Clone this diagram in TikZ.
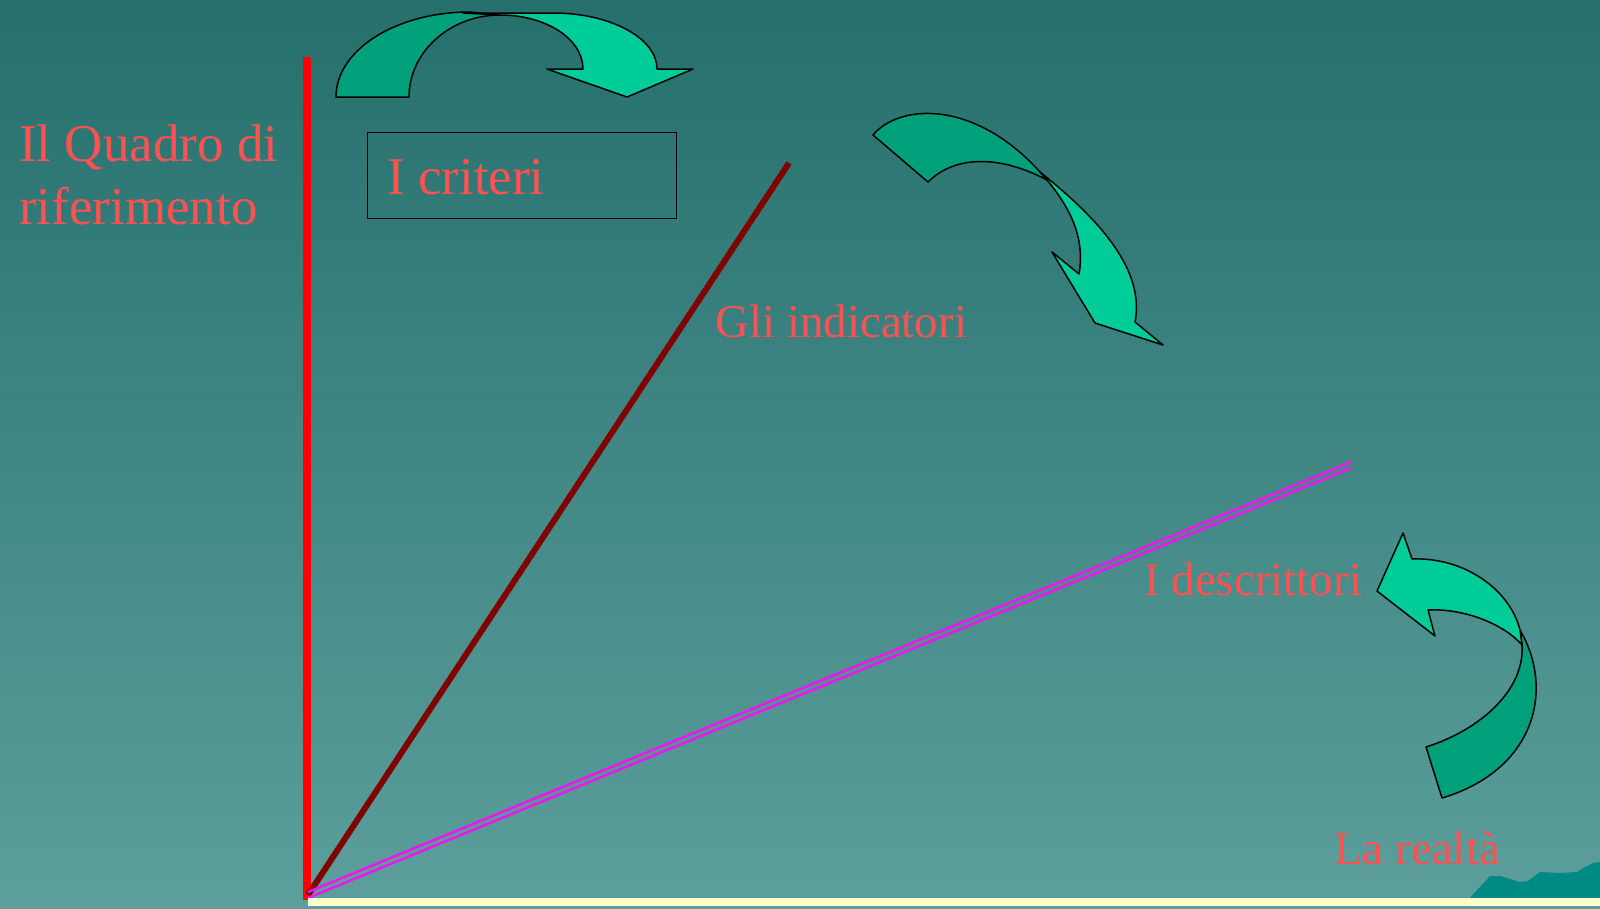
\documentclass[tikz,border=0pt]{standalone}
\usepackage{fontspec}
\setmainfont{Liberation Serif}

\definecolor{sfondoalto}{RGB}{37,111,109}
\definecolor{sfondobasso}{RGB}{92,159,156}
\definecolor{rossotesto}{RGB}{252,82,82}
\definecolor{verdescuro}{RGB}{0,160,122}
\definecolor{verdechiaro}{RGB}{0,204,153}
\definecolor{bordeaux}{RGB}{128,0,0}
\definecolor{fucsia}{RGB}{240,20,240}
\definecolor{crema}{RGB}{255,255,204}
\definecolor{petrolio}{RGB}{0,138,134}

\tikzset{
	testo/.style={text=rossotesto, inner sep=0pt, anchor=base west},
	freccia retro/.style={fill=verdescuro, draw=black, line width=1.5, line join=round},
	freccia fronte/.style={fill=verdechiaro, draw=black, line width=1.5, line join=round}
}

\begin{document}
\begin{tikzpicture}[x=1pt, y=-1pt]

\useasboundingbox (0,0) rectangle (1600,908);
\fill[top color=sfondoalto, bottom color=sfondobasso] (0,0) rectangle (1600,908);

\coordinate (O) at (308,895);
\coordinate (A) at (307,57);
\coordinate (B) at (789,163);
\coordinate (C) at (1351,465);

% Assi
	\draw[red, line width=8] (A) -- (307,900);
	\draw[bordeaux, line width=6] (O) -- (B);
	\draw[fucsia, line width=2.5] ([yshift=3pt]O) -- ([yshift=3pt]C);
	\draw[fucsia, line width=2.5] ([yshift=-3pt]O) -- ([yshift=-3pt]C);

% Testi
\node[testo, font=\fontsize{53}{63}\selectfont] (quadro) at (19,161) {Il Quadro di};
\node[testo, font=\fontsize{53}{63}\selectfont] (riferimento) at (19,224) {riferimento};
\node[draw=black, line width=1, anchor=north west, minimum width=309, minimum height=86, inner sep=0pt] (criteribox) at (367,132) {};
\node[testo, font=\fontsize{53}{63}\selectfont] (criteri) at (387,194) {I criteri};
\node[testo, font=\fontsize{47}{56}\selectfont] (indicatori) at (715,337) {Gli indicatori};
\node[testo, font=\fontsize{47}{56}\selectfont] (descrittori) at (1144,595) {I descrittori};
\node[testo, font=\fontsize{47}{56}\selectfont] (realta) at (1334,864) {La realtà};

% Frecce curve
	\filldraw[freccia retro] (336,97) .. controls (336,50) and (396,12) .. (470,12) -- (500,15)
		.. controls (450,15) and (409,52) .. (409,97) -- cycle;
	\filldraw[freccia fronte] (463,13) -- (553,13) .. controls (610,13) and (657,38) .. (657,69)
		-- (693,69) -- (627,97) -- (547,69) -- (583,69)
		.. controls (583,39) and (546,15) .. (500,15) -- cycle;

	\filldraw[freccia retro] (873,135) .. controls (900,103) and (975,100) .. (1040,172) -- (1047,180)
		.. controls (1000,155) and (955,155) .. (928,182) -- cycle;
	\filldraw[freccia fronte] (1040,172) .. controls (1100,220) and (1145,270) .. (1135,322)
		-- (1163,345) -- (1095,323) -- (1052,252) -- (1079,274)
		.. controls (1085,240) and (1072,210) .. (1047,180) -- cycle;

	\filldraw[freccia retro] (1520,630) .. controls (1555,690) and (1535,770) .. (1442,798) -- (1426,747)
		.. controls (1480,730) and (1525,690) .. (1522,645) -- cycle;
	\filldraw[freccia fronte] (1403,533) -- (1412,559) .. controls (1465,557) and (1510,590) .. (1520,630)
		-- (1522,645) .. controls (1505,625) and (1465,608) .. (1428,610)
		-- (1435,636) -- (1377,591) -- cycle;

% Fondo
	\fill[petrolio] (1469,899) -- (1490,876) -- (1500,876) -- (1520,882) -- (1528,881) -- (1540,872)
		-- (1560,873) -- (1577,872) -- (1583,868) -- (1593,863) -- (1600,862) -- (1600,899) -- cycle;
	\fill[crema] (308,898) rectangle (1600,906);

\end{tikzpicture}
\end{document}
